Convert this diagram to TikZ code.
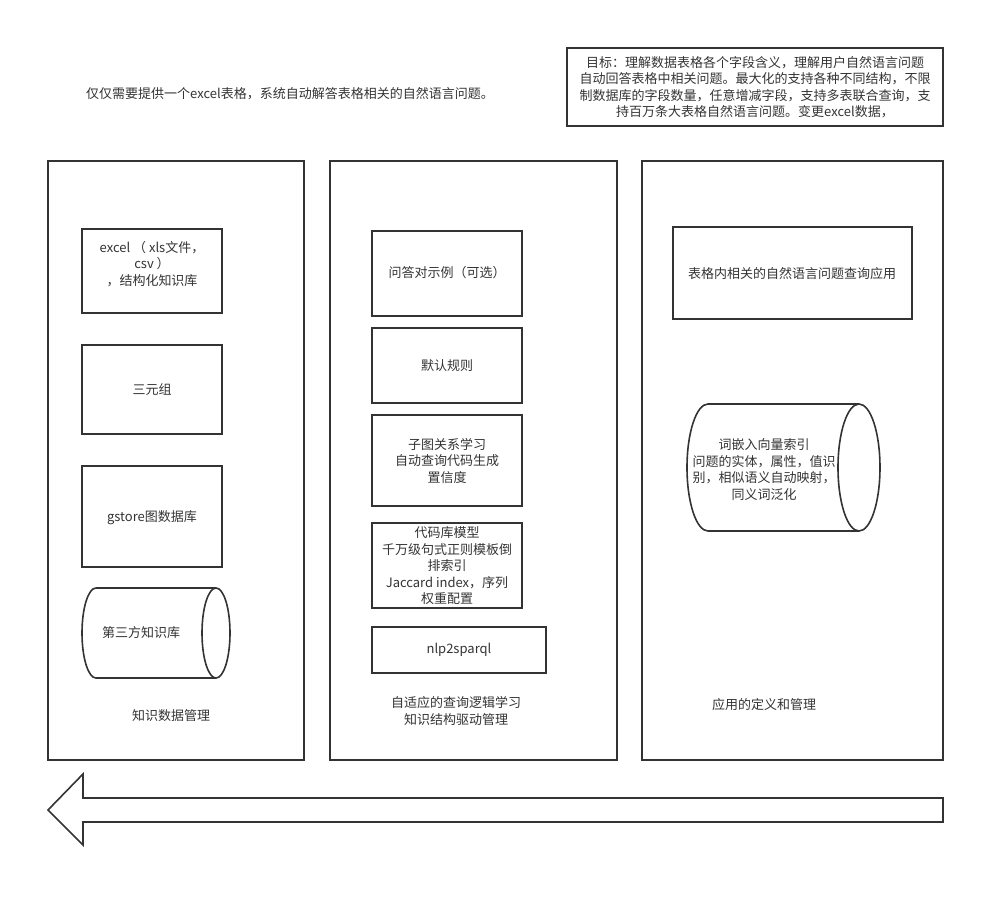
\documentclass[tikz,border=0pt]{standalone}
\usepackage{fontspec}
\setmainfont{Noto Sans CJK SC}
\definecolor{ink}{HTML}{333333}
\definecolor{txt}{HTML}{333333}
\tikzset{
  panel/.style={draw=ink, line width=1.6pt},
  box/.style={draw=ink, line width=1.6pt},
  lbl/.style={text=txt, font=\fontsize{13}{16.5}\selectfont, align=center, inner sep=0pt},
}
\begin{document}
\begin{tikzpicture}[x=1pt,y=-1pt]
\useasboundingbox (0,0) rectangle (1005,906);
% top texts
\node[lbl] (intro) at (290,94) {仅仅需要提供一个excel表格，系统自动解答表格相关的自然语言问题。};
\draw[box] (567,48) rectangle (943,126);
\node[lbl] (goal) at (755,87) {目标：理解数据表格各个字段含义，理解用户自然语言问题\\自动回答表格中相关问题。最大化的支持各种不同结构，不限\\制数据库的字段数量，任意增减字段，支持多表联合查询，支\\持百万条大表格自然语言问题。变更excel数据，};
% panels
\draw[panel] (48,161) rectangle (304,760);
\draw[panel] (330,161) rectangle (617,760);
\draw[panel] (642,161) rectangle (943,760);
% left panel
\draw[box] (82,229) rectangle (222,313);
\node[lbl] (excel) at (152,264) {excel （ xls文件，\\csv ）\\，结构化知识库};
\draw[box] (82,345) rectangle (222,434);
\node[lbl] (triple) at (152,390) {三元组};
\draw[box] (82,466) rectangle (222,567);
\node[lbl] (gstore) at (152,518) {gstore图数据库};
\draw[box] (216,588) -- (96,588) arc[start angle=90, end angle=270, x radius=14pt, y radius=45pt] -- (216,678);
\draw[box] (216,633) ellipse[x radius=14pt, y radius=45pt];
\node[lbl] (third) at (141,633) {第三方知识库};
\node[lbl] (leftcap) at (171,716) {知识数据管理};
% middle panel
\draw[box] (372,231) rectangle (522,316);
\node[lbl] (qa) at (447,273) {问答对示例（可选）};
\draw[box] (372,328) rectangle (522,403);
\node[lbl] (rule) at (447,366) {默认规则};
\draw[box] (372,415) rectangle (522,506);
\node[lbl] (sub) at (447,461) {子图关系学习\\自动查询代码生成\\置信度};
\draw[box] (372,523) rectangle (522,608);
\node[lbl] (code) at (447,566) {代码库模型\\千万级句式正则模板倒\\排索引\\Jaccard index，序列\\权重配置};
\draw[box] (372,627) rectangle (546,673);
\node[lbl] (nlp) at (459,650) {nlp2sparql};
\node[lbl] (midcap) at (456,711) {自适应的查询逻辑学习\\知识结构驱动管理};
% right panel
\draw[box] (673,227) rectangle (912,319);
\node[lbl] (app) at (792,274) {表格内相关的自然语言问题查询应用};
\draw[box] (859,404) -- (708,404) arc[start angle=90, end angle=270, x radius=21pt, y radius=63.5pt] -- (859,531);
\draw[box] (859,467.5) ellipse[x radius=21pt, y radius=63.5pt];
\node[lbl] (emb) at (764,469.5) {词嵌入向量索引\\问题的实体，属性，值识\\别，相似语义自动映射，\\同义词泛化};
\node[lbl] (rightcap) at (764,705) {应用的定义和管理};
% big arrow
\draw[box] (48,810) -- (83,774) -- (83,798) -- (943,798) -- (943,822) -- (83,822) -- (83,845) -- cycle;
\end{tikzpicture}
\end{document}
